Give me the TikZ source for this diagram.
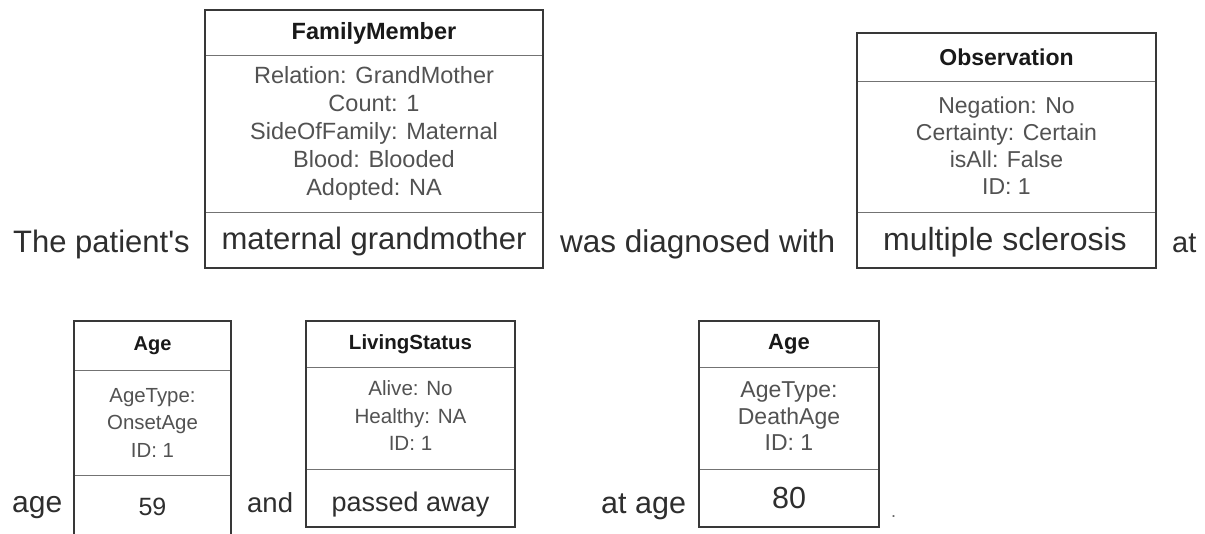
\documentclass[tikz,border=0pt]{standalone}
\usepackage{fontspec}
\setmainfont{Liberation Sans}[Ligatures=TeXOff]
\newcommand{\fsz}[2]{\fontsize{#1}{#2}\selectfont}
\begin{document}
\begin{tikzpicture}[x=1pt,y=-1pt,
  boxline/.style={draw=black!78, line width=1.5pt},
  divline/.style={draw=black!55, line width=1pt},
  hdr/.style={font=\bfseries\fsz{#1}{28}, text=black!90, inner sep=0pt},
  attr/.style={align=center, text=black!68, inner sep=0pt},
  inword/.style={font=\fsz{#1}{36}, text=black!82, anchor=base, inner sep=0pt},
  word/.style={font=\fsz{#1}{36}, text=black!82, anchor=base west, inner sep=0pt}]
\useasboundingbox (0,0) rectangle (1205,533);
\fill[white] (0,0) rectangle (1205,533);

% ---- FamilyMember box
\draw[divline] (205,55) -- (543,55);
\draw[divline] (205,212) -- (543,212);
\draw[boxline] (205,10) rectangle (543,268);
\node[hdr=23.5] (fmh) at (374,33) {FamilyMember};
\node[attr, font=\fsz{23.5}{28}] (fmb) at (374,133.5) {Relation: GrandMother\\Count: 1\\SideOfFamily: Maternal\\Blood: Blooded\\Adopted: NA};
\node[inword=31] (fmt) at (374,249) {maternal grandmother};

% ---- Observation box
\draw[divline] (857,81) -- (1156,81);
\draw[divline] (857,212) -- (1156,212);
\draw[boxline] (857,33) rectangle (1156,268);
\node[hdr=23] (obh) at (1006.5,57) {Observation};
\node[attr, font=\fsz{23}{27}] (obb) at (1006.5,145.5) {Negation: No\\Certainty: Certain\\isAll: False\\ID: 1};
\node[inword=32] (obt) at (1005,250) {multiple sclerosis};

% ---- Age box 1 (cut off at bottom)
\draw[divline] (74,370) -- (231,370);
\draw[divline] (74,475) -- (231,475);
\draw[boxline] (74,534) -- (74,321) -- (231,321) -- (231,534);
\node[hdr=20] (a1h) at (152.5,345.5) {Age};
\node[attr, font=\fsz{20.4}{27.5}] (a1b) at (152.5,422.5) {AgeType:\\OnsetAge\\ID: 1};
\node[inword=25] (a1t) at (152.5,515) {59};

% ---- LivingStatus box
\draw[divline] (306,367) -- (515,367);
\draw[divline] (306,469) -- (515,469);
\draw[boxline] (306,321) rectangle (515,527);
\node[hdr=20.5] (lsh) at (410.5,344) {LivingStatus};
\node[attr, font=\fsz{20.6}{27.5}] (lsb) at (410.5,416) {Alive: No\\Healthy: NA\\ID: 1};
\node[inword=27] (lst) at (410.5,511) {passed away};

% ---- Age box 2
\draw[divline] (699,367) -- (879,367);
\draw[divline] (699,469) -- (879,469);
\draw[boxline] (699,321) rectangle (879,527);
\node[hdr=22] (a2h) at (789,344) {Age};
\node[attr, font=\fsz{23}{26.5}] (a2b) at (789,416.5) {AgeType:\\DeathAge\\ID: 1};
\node[inword=30.5] (a2t) at (789,508) {80};

% ---- sentence words
\node[word=31] (w1) at (13,252) {The patient's};
\node[word=31.5] (w2) at (560,252) {was diagnosed with};
\node[word=29] (w3) at (1172,252) {at};
\node[word=30] (w4) at (12,512) {age};
\node[word=27.5] (w5) at (247,512) {and};
\node[word=30.5] (w6) at (601,513) {at age};
\node[word=18, text=black!60] (w7) at (891,517) {.};
\end{tikzpicture}
\end{document}
